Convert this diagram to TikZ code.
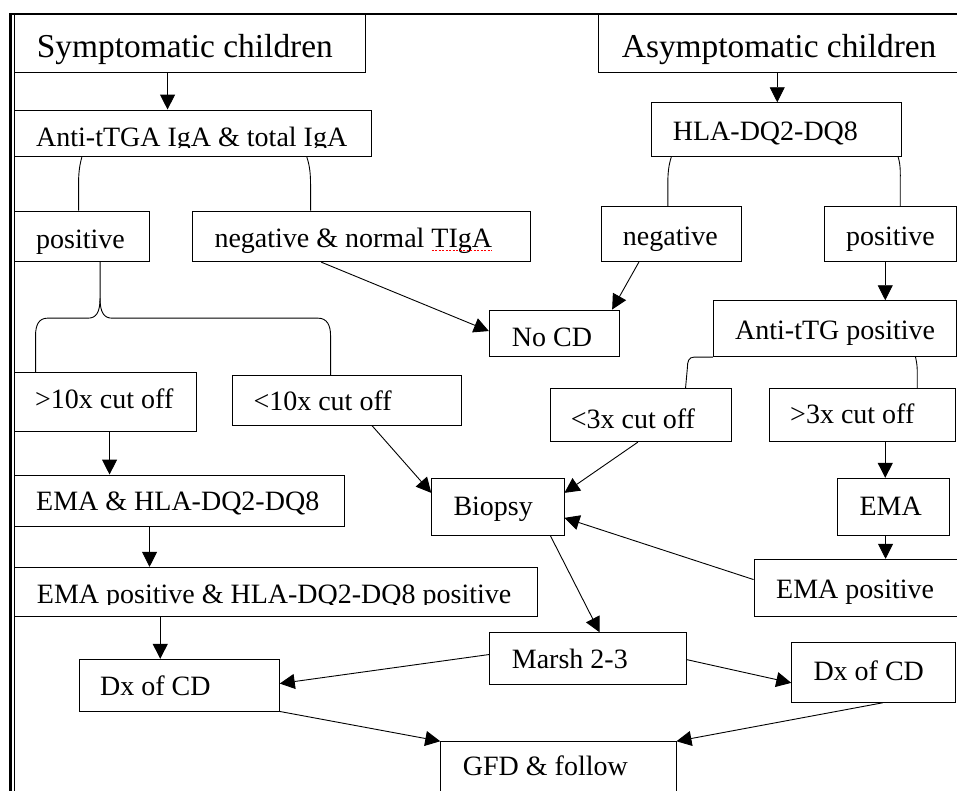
\documentclass[tikz,border=0pt]{standalone}
\usepackage{fontspec}
\setmainfont{Liberation Serif}
\usetikzlibrary{arrows.meta,calc}
\tikzset{
 box/.style={draw, line width=0.9pt, inner sep=0pt},
 lbl/.style={anchor=base west, inner sep=0pt, font=\fontsize{28}{30}\selectfont},
 ttl/.style={anchor=base west, inner sep=0pt, font=\fontsize{33.4}{36}\selectfont},
 arr/.style={line width=0.9pt, -{Triangle[length=15pt,width=15pt]}},
 lnk/.style={line width=0.9pt},
}
\newcommand\fcbox[5]{%
 \pgfmathsetmacro\bw{#4-#2}\pgfmathsetmacro\bh{#5-#3}%
 \pgfmathsetmacro\bcx{(#2+#4)/2}\pgfmathsetmacro\bcy{(#3+#5)/2}%
 \node[box,minimum width=\bw pt,minimum height=\bh pt] (#1) at (\bcx,\bcy) {};}
\begin{document}
\begin{tikzpicture}[x=1pt,y=-1pt]
\useasboundingbox (0,0) rectangle (957,790);
\clip (0,0) rectangle (957,790);
% frame
\draw[line width=2.7pt] (10.7,792) -- (10.7,14) -- (960,14);
\draw[line width=0.9pt] (14.5,14) -- (14.5,792);
% boxes
\fcbox{sym}{14.5}{14}{365.7}{72}
\fcbox{asym}{598.3}{14}{975}{72}
\fcbox{ttga}{14.5}{110}{371.7}{156.7}
\fcbox{hla}{651.7}{102.7}{901}{156.7}
\fcbox{posL}{14.5}{211}{149.3}{261.7}
\fcbox{negN}{192.7}{211}{530.7}{261.7}
\fcbox{negR}{601.7}{206.7}{741}{261.7}
\fcbox{posR}{824}{206.7}{956}{261.7}
\fcbox{nocd}{489.3}{310}{619.3}{356.7}
\fcbox{attg}{713.3}{300.7}{956}{356.7}
\fcbox{gten}{14.5}{372.3}{196}{431}
\fcbox{lten}{232.3}{375.7}{461}{425}
\fcbox{lthree}{550}{388.3}{731.7}{441.7}
\fcbox{gthree}{769.3}{388.3}{955.7}{441.7}
\fcbox{emahla}{14.5}{475}{344.3}{526.7}
\fcbox{biopsy}{431.7}{478.3}{564}{535}
\fcbox{ema}{837.3}{478.3}{949.3}{535}
\fcbox{emahlapos}{14.5}{567.3}{537.7}{616.7}
\fcbox{emapos}{754}{559.3}{975}{616.7}
\fcbox{marsh}{489.3}{632.7}{686}{684}
\fcbox{dxL}{79.3}{659.3}{279.3}{711}
\fcbox{dxR}{791.7}{642.7}{955.7}{702.3}
\fcbox{gfd}{440.7}{741.7}{676}{810}
% texts
\node[ttl] (symt) at (36.7,57.3) {Symptomatic children};
\node[ttl] (asymt) at (621.7,57.3) {Asymptomatic children};
\begin{scope}
\clip (14,100) rectangle (372,147.8);
\node[lbl] (ttgat) at (36,146.7) {Anti-tTGA IgA \& total IgA};
\end{scope}
\node[lbl] (hlat) at (672.7,140) {HLA-DQ2-DQ8};
\node[lbl] (posLt) at (36,248) {positive};
\node[lbl] (negNt) at (214.3,247) {negative \& normal TIgA};
\node[lbl] (negRt) at (622.7,245) {negative};
\node[lbl] (posRt) at (846,245) {positive};
\node[lbl] (nocdt) at (511.7,346.7) {No CD};
\node[lbl] (attgt) at (735,339.3) {Anti-tTG positive};
\node[lbl] (gtent) at (35,408.3) {>10x cut off};
\node[lbl] (ltent) at (253.3,410) {<10x cut off};
\node[lbl] (lthreet) at (570.7,428.3) {<3x cut off};
\node[lbl] (gthreet) at (790,423.3) {>3x cut off};
\node[lbl] (emahlat) at (36,510) {EMA \& HLA-DQ2-DQ8};
\node[lbl] (biopsyt) at (453.3,515) {Biopsy};
\node[lbl] (emat) at (859.3,515) {EMA};
\begin{scope}
\clip (14,560) rectangle (538,604.5);
\node[lbl] (emahlapost) at (36.7,603.3) {EMA positive \& HLA-DQ2-DQ8 positive};
\end{scope}
\node[lbl] (emapost) at (776,598.3) {EMA positive};
\node[lbl] (marsht) at (511.7,668.3) {Marsh 2-3};
\node[lbl] (dxLt) at (100,695) {Dx of CD};
\node[lbl] (dxRt) at (813.3,680) {Dx of CD};
\node[lbl] (gfdt) at (462.7,775) {GFD \& follow};
% spell-check underline
\draw[red,line width=0.8pt,dash pattern=on 2pt off 1.5pt] ($(negNt.base east)+(-60.6,3)$) -- ($(negNt.base east)+(0,3)$);
% connectors
\draw[arr] ($(sym.south west)+(153.5,0)$) -- ($(ttga.north west)+(153.5,0)$);
\draw[arr] ($(asym.south west)+(179.4,0)$) -- ($(hla.north west)+(126,0)$);
\draw[lnk] ($(ttga.south west)+(67.8,0)$) .. controls +(-2.6,9) and +(0,-10) .. ($(posL.north west)+(64.5,-26)$) -- ($(posL.north west)+(64.5,0)$);
\draw[lnk] ($(ttga.south west)+(292.8,0)$) .. controls +(3,9) and +(0,-10) .. ($(negN.north west)+(118.3,-26)$) -- ($(negN.north west)+(118.3,0)$);
\draw[lnk] ($(hla.south west)+(20,0)$) .. controls +(-2.6,8) and +(0,-9) .. ($(negR.north west)+(66.6,-24)$) -- ($(negR.north west)+(66.6,0)$);
\draw[lnk] ($(hla.south east)+(-3.3,0)$) .. controls +(2.6,8) and +(0,-9) .. ($(posR.north west)+(76.7,-24)$) -- ($(posR.north west)+(76.7,0)$);
\draw[arr] ($(posR.south west)+(61.7,0)$) -- ($(attg.north west)+(172.4,0)$);
\draw[arr] ($(negR.south west)+(37.6,0)$) -- ($(nocd.north east)+(-7.6,0)$);
\draw[arr] ($(negN.south west)+(129,0)$) -- ($(nocd.west)+(0,-2.3)$);
% brace under positive
\draw[lnk] ($(posL.south west)+(86,0)$) -- ++(0,36.3) coordinate (btip)
  .. controls +(0,14) and +(8,0) .. ++(-12,19.7) -- ++(-40.5,0)
  .. controls +(-9,0) and +(0,-10) .. ++(-12,17.3) -- ($(gten.north west)+(21.5,0)$);
\draw[lnk] (btip) .. controls +(0,14) and +(-8,0) .. ++(12,19.7) -- ++(206,0)
  .. controls +(9,0) and +(0,-10) .. ++(12.5,17.3) -- ($(lten.north west)+(98.7,0)$);
% anti-tTG branches
\draw[lnk] (attg.south west) -- ++(-19,0) .. controls +(-5,0) and +(0,-7) .. ++(-6.5,11) -- ($(lthree.north west)+(136,0)$);
\draw[lnk] ($(attg.south west)+(202.7,0)$) .. controls +(1.5,7) and +(0,-7) .. ($(gthree.north west)+(148.4,-14)$) -- ($(gthree.north west)+(148.4,0)$);
\draw[arr] ($(gten.south west)+(95.5,0)$) -- ($(emahla.north west)+(95.5,0)$);
\draw[arr] ($(lten.south west)+(140,0)$) -- ($(biopsy.north west)+(0,15)$);
\draw[arr] ($(lthree.south west)+(88.3,0)$) -- ($(biopsy.north east)+(0,15)$);
\draw[arr] ($(gthree.south west)+(116.4,0)$) -- ($(ema.north west)+(48.4,0)$);
\draw[arr] ($(ema.south west)+(48.7,0)$) -- ($(emapos.north west)+(132,0)$);
\draw[arr] ($(emapos.north west)+(0,20.7)$) -- ($(biopsy.north east)+(0,40)$);
\draw[arr] ($(emahla.south west)+(135.5,0)$) -- ($(emahlapos.north west)+(135.5,0)$);
\draw[arr] ($(emahlapos.south west)+(146.2,0)$) -- ($(dxL.north west)+(81.4,0)$);
\draw[arr] ($(biopsy.south west)+(119,0)$) -- ($(marsh.north west)+(110.7,0)$);
\draw[arr] ($(marsh.north west)+(0,22.3)$) -- ($(dxL.north east)+(0,24.7)$);
\draw[arr] ($(marsh.north east)+(0,27.3)$) -- ($(dxR.north west)+(0,40.6)$);
\draw[arr] (dxL.south east) -- (gfd.north west);
\draw[arr] ($(dxR.south west)+(91.6,0)$) -- (gfd.north east);
\end{tikzpicture}
\end{document}
